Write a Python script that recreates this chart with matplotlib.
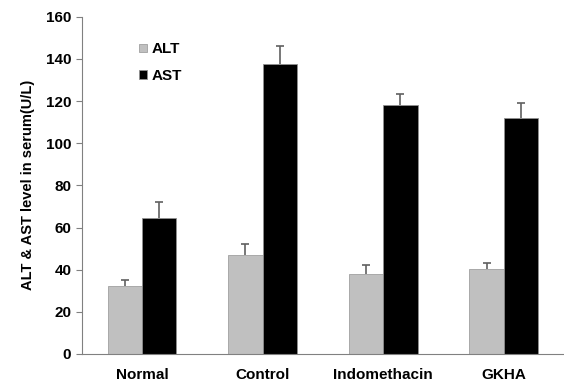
import numpy as np
import matplotlib.pyplot as plt

plt.rcParams['font.family'] = ['Liberation Sans', 'DejaVu Sans']
plt.rcParams['font.weight'] = 'bold'

groups = ['Normal', 'Control', 'Indomethacin', 'GKHA']
alt = [32.3, 47.0, 38.0, 40.4]
alt_err = [2.7, 5.0, 4.0, 2.6]
ast = [64.6, 137.7, 118.0, 112.0]
ast_err = [7.6, 8.5, 5.5, 7.0]

fig, ax = plt.subplots(figsize=(5.64, 3.83), dpi=100)
fig.subplots_adjust(left=0.145, right=1.0, bottom=0.076, top=0.956)

x = np.arange(len(groups))
w = 0.285
ax.bar(x - w / 2, alt, w, color='#c0c0c0', edgecolor='#a0a0a0', linewidth=0.6, label='ALT')
ax.bar(x + w / 2, ast, w, color='black', edgecolor='#909090', linewidth=0.6, label='AST')

# upward-only error bars
for xs, vals, errs in [(x - w / 2, alt, alt_err), (x + w / 2, ast, ast_err)]:
    _, caps, _ = ax.errorbar(xs, vals, yerr=[np.zeros(4), errs], fmt='none',
                             ecolor='#606060', elinewidth=1.2, capsize=3, capthick=1.2)
    caps[0].set_visible(False)

ax.set_xlim(-0.5, 3.5)
ax.set_ylim(0, 160)
ax.set_yticks(range(0, 161, 20))
ax.set_xticks(x)
ax.set_xticklabels(groups, fontsize=11, fontweight='bold')
ax.tick_params(axis='x', length=0, pad=10)
ax.tick_params(axis='y', labelsize=11, color='#808080', length=4, direction='out')
for s in ['top', 'right']:
    ax.spines[s].set_visible(False)
for s in ['left', 'bottom']:
    ax.spines[s].set_color('#808080')
ax.set_ylabel('ALT & AST level in serum(U/L)', fontsize=10.5, fontweight='bold', labelpad=8)

ax.legend(loc='upper left', bbox_to_anchor=(0.09, 0.965), frameon=False, fontsize=11,
          handlelength=0.5, handleheight=0.5, handletextpad=0.3, labelspacing=0.8)

fig.savefig('out.png', dpi=100)
